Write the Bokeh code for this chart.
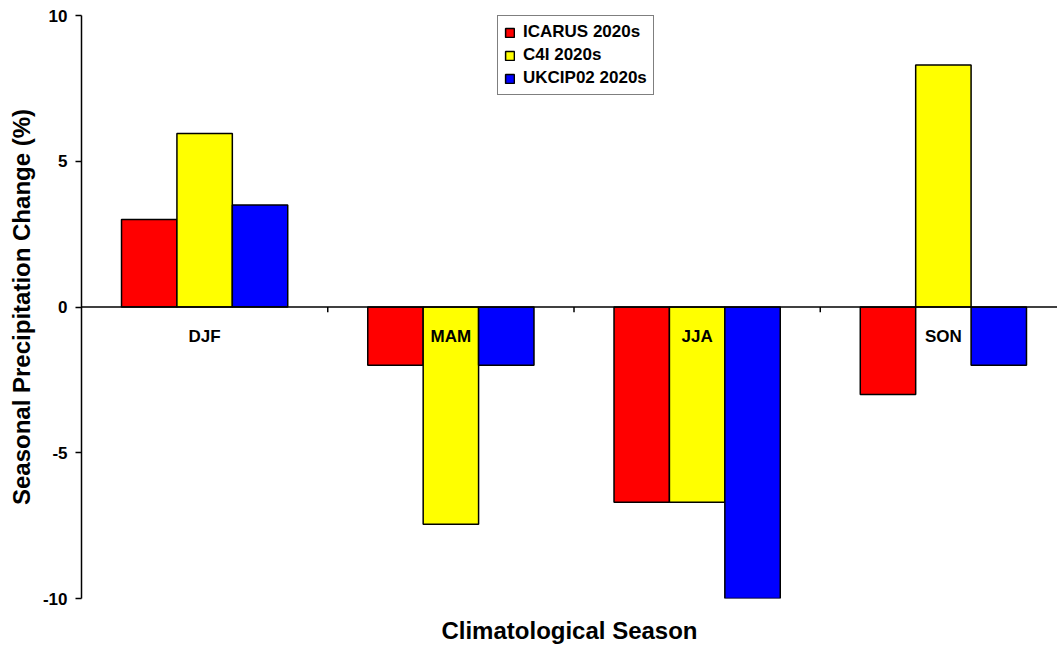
from bokeh.plotting import figure
from bokeh.models import Range1d, FixedTicker, ColumnDataSource, Legend, LegendItem, Span, PrintfTickFormatter
from bokeh.core.properties import value
from bokeh.embed import file_html
from bokeh.resources import INLINE

# ---- data ----
seasons = ["DJF", "MAM", "JJA", "SON"]
icarus = [3.0, -2.0, -6.7, -3.0]
c4i = [5.95, -7.45, -6.7, 8.3]
ukcip = [3.5, -2.0, -10.0, -2.0]
series_names = ["ICARUS 2020s", "C4I 2020s", "UKCIP02 2020s"]
series_colors = ["#ff0000", "#ffff00", "#0000ff"]
y_ticks = [-10, -5, 0, 5, 10]

FONT = "Liberation Sans"
n = len(seasons)
bar_w = 0.225
offsets = [-bar_w, 0.0, bar_w]
centers = [i + 0.5 for i in range(n)]

p = figure(width=1057, height=646, output_backend="svg", toolbar_location=None,
           x_range=Range1d(0, n - 9 / 246), y_range=Range1d(-10, 10),
           min_border_left=81, min_border_right=0, min_border_top=15, min_border_bottom=47)
p.outline_line_color = None
p.xgrid.visible = False
p.ygrid.visible = False
p.background_fill_color = "white"
p.border_fill_color = "white"

# y axis
ya = p.yaxis[0]
ya.ticker = FixedTicker(ticks=y_ticks)
ya.formatter = PrintfTickFormatter(format="%d")
ya.minor_tick_line_color = None
ya.major_tick_in = 0
ya.major_tick_out = 6
ya.axis_line_width = 1.5
ya.axis_line_color = "black"
ya.major_tick_line_width = 1.5
ya.major_tick_line_color = "black"
ya.major_label_text_font = FONT
ya.major_label_text_font_style = "bold"
ya.major_label_text_font_size = "17px"
ya.major_label_text_color = "black"
ya.major_label_standoff = 8
ya.axis_label = "Seasonal Precipitation Change (%)"
ya.axis_label_text_font = FONT
ya.axis_label_text_font_style = "bold"
ya.axis_label_text_font_size = "24px"
ya.axis_label_text_color = "black"
ya.axis_label_standoff = 5

# x axis (title only)
xa = p.xaxis[0]
xa.ticker = FixedTicker(ticks=[])
xa.axis_line_color = None
xa.major_tick_line_color = None
xa.minor_tick_line_color = None
xa.major_tick_out = 0
xa.axis_label = "Climatological Season"
xa.axis_label_text_font = FONT
xa.axis_label_text_font_style = "bold"
xa.axis_label_text_font_size = "24px"
xa.axis_label_text_color = "black"
xa.axis_label_standoff = 18

items = []
for vals, name, col, off in zip([icarus, c4i, ukcip], series_names, series_colors, offsets):
    src = ColumnDataSource(dict(x=[c + off for c in centers], top=vals))
    r = p.vbar(x="x", top="top", bottom=0, width=bar_w, source=src,
               fill_color=col, line_color="black", line_width=1.5)
    items.append(LegendItem(label=name, renderers=[r]))

# zero axis line and category boundary ticks
p.add_layout(Span(location=0, dimension="width", line_color="black", line_width=1.5))
p.segment(x0=list(range(1, n)), y0=[0] * (n - 1), x1=list(range(1, n)), y1=[-0.18] * (n - 1),
          line_color="black", line_width=1.5)

# category labels
p.text(x=centers, y=[-1.0] * n, text=seasons, text_align="center", text_baseline="middle",
       text_font=value(FONT), text_font_style="bold", text_font_size="17px", text_color="black")

legend = Legend(items=items, location=(416, 503), orientation="vertical")
legend.border_line_color = "black"
legend.border_line_width = 1.5
legend.background_fill_color = "white"
legend.background_fill_alpha = 1.0
legend.label_text_font = FONT
legend.label_text_font_style = "bold"
legend.label_text_font_size = "17px"
legend.label_text_color = "black"
legend.glyph_width = 11
legend.glyph_height = 11
legend.label_standoff = 8
legend.label_height = 18
legend.spacing = 3
legend.padding = 6
legend.margin = 0
p.add_layout(legend, "center")

open("out.html", "w").write(file_html(p, INLINE))
